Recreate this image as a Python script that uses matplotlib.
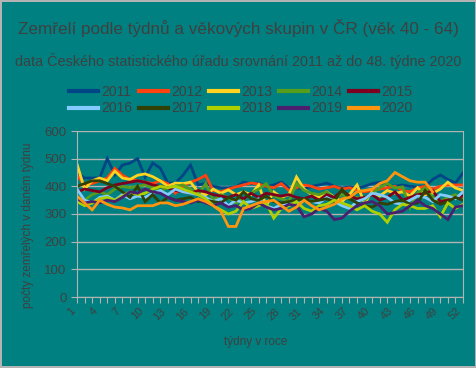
import matplotlib
matplotlib.use("Agg")
import matplotlib.pyplot as plt
import numpy as np

plt.rcParams["font.family"] = ["Liberation Sans", "DejaVu Sans"]

BG = "#008080"
TXT = "#404040"
GRID = "#b3b3b3"

weeks = list(range(1, 53))
years = ["2011", "2012", "2013", "2014", "2015", "2016", "2017", "2018", "2019", "2020"]
colors = ["#004586", "#ff420e", "#ffd320", "#579d1c", "#7e0021",
          "#83caff", "#314004", "#aecf00", "#4b1f6f", "#ff950e"]

d2011 = [448, 430, 430, 430, 500, 441, 477, 484, 500, 434, 484, 466, 412, 412, 440, 477, 405, 410,
         400, 395, 395, 398, 415, 410, 412, 398, 405, 415, 394, 395, 390, 400, 405, 412, 400, 394,
         398, 394, 400, 410, 415, 405, 400, 405, 400, 398, 400, 425, 441, 425, 412, 448]
d2012 = [440, 405, 410, 420, 430, 465, 440, 425, 420, 415, 410, 420, 410, 375, 400, 415, 425, 440,
         385, 380, 390, 398, 405, 412, 408, 400, 395, 410, 385, 395, 405, 400, 390, 395, 400, 390,
         395, 385, 380, 385, 390, 395, 400, 385, 380, 395, 400, 390, 400, 405, 405, 405]
d2013 = [480, 390, 420, 430, 420, 455, 430, 425, 440, 445, 435, 420, 400, 412, 410, 415, 380, 369,
         390, 375, 387, 370, 380, 370, 405, 330, 380, 360, 370, 434, 390, 370, 360, 380, 360, 345,
         370, 405, 340, 380, 365, 385, 375, 380, 365, 395, 370, 375, 390, 415, 394, 385]
d2014 = [360, 350, 370, 380, 370, 390, 400, 395, 400, 405, 395, 385, 395, 400, 405, 390, 370, 410,
         350, 370, 360, 340, 355, 375, 390, 410, 365, 355, 345, 410, 385, 375, 370, 380, 355, 370,
         360, 360, 350, 375, 395, 410, 394, 398, 322, 375, 395, 360, 345, 360, 370, 355]
d2015 = [380, 390, 385, 380, 395, 405, 410, 415, 420, 415, 405, 400, 395, 385, 380, 375, 385, 380,
         370, 365, 360, 370, 355, 375, 360, 375, 370, 365, 370, 360, 355, 365, 350, 370, 360, 385,
         365, 355, 360, 370, 350, 360, 380, 350, 360, 370, 375, 385, 345, 350, 360, 365]
d2016 = [390, 350, 340, 360, 365, 350, 370, 355, 365, 360, 375, 385, 370, 390, 380, 375, 370, 360,
         345, 355, 330, 350, 340, 345, 355, 330, 320, 335, 340, 330, 350, 345, 340, 360, 345, 330,
         320, 345, 355, 375, 370, 360, 340, 335, 350, 365, 360, 345, 370, 365, 355, 380]
d2017 = [400, 410, 420, 420, 410, 400, 380, 360, 400, 345, 370, 340, 360, 350, 355, 360, 345, 350,
         345, 340, 360, 350, 380, 355, 350, 365, 345, 340, 345, 350, 355, 345, 350, 355, 345, 390,
         355, 340, 330, 325, 340, 335, 345, 350, 335, 340, 385, 350, 335, 345, 360, 350]
d2018 = [345, 330, 340, 355, 360, 350, 365, 380, 370, 375, 390, 400, 395, 400, 390, 380, 370, 355,
         330, 315, 300, 310, 345, 320, 330, 340, 285, 320, 330, 345, 320, 310, 330, 335, 350, 340,
         330, 315, 330, 310, 300, 270, 315, 335, 330, 320, 320, 330, 290, 340, 320, 335]
d2019 = [355, 340, 345, 340, 350, 345, 360, 380, 375, 390, 380, 375, 360, 350, 345, 340, 350, 340,
         330, 340, 325, 330, 315, 320, 340, 325, 315, 320, 335, 330, 290, 300, 320, 310, 280, 285,
         310, 330, 340, 345, 330, 300, 305, 310, 330, 350, 330, 320, 300, 280, 325, 330]
d2020 = [365, 340, 315, 350, 335, 325, 322, 315, 330, 330, 330, 340, 340, 330, 335, 345, 355, 345,
         330, 310, 255, 255, 320, 330, 340, 345, 350, 330, 310, 325, 350, 330, 315, 325, 335, 355,
         360, 380, 385, 390, 410, 420, 450, 435, 420, 415, 415, 380]
series = [d2011, d2012, d2013, d2014, d2015, d2016, d2017, d2018, d2019, d2020]

fig = plt.figure(figsize=(4.77, 3.68), dpi=100, facecolor=BG)
fig.patch.set_edgecolor("#b3b3b3")
fig.patch.set_linewidth(1.5)
ax = fig.add_axes([77 / 477, 1 - 297 / 368, 386 / 477, 166 / 368])
ax.set_facecolor(BG)

lines = []
for year, vals, col in zip(years, series, colors):
    ln, = ax.plot(weeks[:len(vals)], vals, color=col, lw=2.0, label=year, solid_joinstyle="miter")
    lines.append(ln)

ax.set_xlim(1, 52)
ax.set_ylim(0, 600)
ax.set_yticks(range(0, 601, 100))
ax.set_xticks(weeks)
ax.set_xticklabels([str(w) if (w - 1) % 3 == 0 else "" for w in weeks],
                   rotation=45, ha="right", fontsize=8, color=TXT)
ax.tick_params(axis="y", labelsize=9.5, labelcolor=TXT, color=GRID, length=4.5, pad=3)
ax.tick_params(axis="x", color=GRID, length=4.5, pad=2)
ax.grid(axis="y", color=GRID, lw=1)
ax.set_axisbelow(True)
for side in ["left", "right", "bottom"]:
    ax.spines[side].set_color(GRID)
ax.spines["top"].set_visible(False)

fig.text(28 / 477, 1 - 225 / 368, "počty zemřelých v daném týdnu", rotation=90,
         ha="center", va="center", fontsize=8.5, color=TXT)
fig.text(256 / 477, 1 - 342 / 368, "týdny v roce", ha="center", va="center",
         fontsize=8.5, color=TXT)

fig.text(0.5, 1 - 28 / 368, "Zemřelí podle týdnů a věkových skupin v ČR (věk 40 - 64)",
         ha="center", va="center", fontsize=12.3, color=TXT)
fig.text(0.5, 1 - 61 / 368, "data Českého statistického úřadu srovnání 2011 až do 48. týdne 2020",
         ha="center", va="center", fontsize=10.4, color=TXT)

# legend fills column-wise, so interleave to get rows 2011-2015 / 2016-2020
order = [0, 5, 1, 6, 2, 7, 3, 8, 4, 9]
leg = fig.legend([lines[i] for i in order], [years[i] for i in order],
                 loc="center", bbox_to_anchor=(0.505, 1 - 100 / 368), ncol=5, frameon=False,
                 fontsize=10, handlelength=2.1, handletextpad=0.25, columnspacing=0.45,
                 labelspacing=0.2, borderaxespad=0, borderpad=0)
for t in leg.get_texts():
    t.set_color(TXT)
for h in leg.legend_handles:
    h.set_linewidth(3)

fig.savefig("out.png", dpi=100, facecolor=BG, edgecolor=fig.patch.get_edgecolor())
